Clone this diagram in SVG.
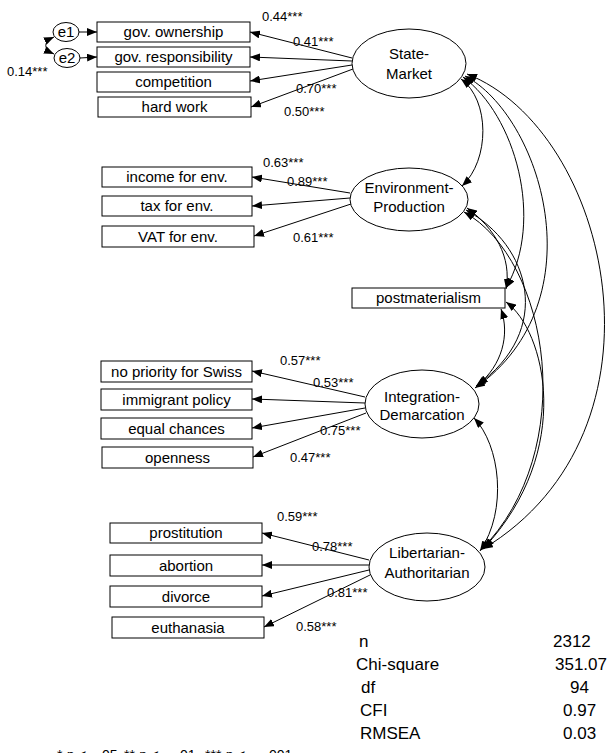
<svg xmlns="http://www.w3.org/2000/svg" width="616" height="753" viewBox="0 0 616 753">
<defs>
<marker id="ah" viewBox="0 0 10 8" refX="10" refY="4" markerWidth="10" markerHeight="8" markerUnits="userSpaceOnUse" orient="auto-start-reverse">
<path d="M0,0 L10,4 L0,8 Z" fill="#000"/>
</marker>
<style>
.box{fill:#fff;stroke:#000;stroke-width:1}
.ell{fill:#fff;stroke:#000;stroke-width:1}
.t{font-family:"Liberation Sans",Arial,sans-serif;font-size:15px;fill:#000;text-anchor:middle}
.lab{font-family:"Liberation Sans",Arial,sans-serif;font-size:13px;fill:#000}
.st{font-family:"Liberation Sans",Arial,sans-serif;font-size:17px;fill:#000}
.ld{fill:none;stroke:#000;stroke-width:1;marker-end:url(#ah)}
.cv{fill:none;stroke:#000;stroke-width:1;marker-start:url(#ah);marker-end:url(#ah)}
</style>
</defs>
<rect width="616" height="753" fill="#fff"/>

<g id="connectors">
<!-- e arrows -->
<line class="ld" x1="79" y1="32" x2="97" y2="32"/>
<line class="ld" x1="80" y1="58" x2="97" y2="57"/>
<path class="cv" d="M54,37 C43,42 43,49 54,54"/>
<!-- State-Market loadings -->
<line class="ld" x1="352" y1="58" x2="250" y2="32"/>
<line class="ld" x1="352" y1="61" x2="250" y2="57"/>
<line class="ld" x1="352" y1="65" x2="250" y2="81"/>
<line class="ld" x1="353" y1="69" x2="251" y2="107"/>
<!-- Environment loadings -->
<line class="ld" x1="350" y1="193" x2="252" y2="177"/>
<line class="ld" x1="350" y1="198" x2="252" y2="206"/>
<line class="ld" x1="351" y1="204" x2="254" y2="236"/>
<!-- Integration loadings -->
<line class="ld" x1="365" y1="397" x2="252" y2="371"/>
<line class="ld" x1="365" y1="403" x2="252" y2="399"/>
<line class="ld" x1="365" y1="408" x2="252" y2="428"/>
<line class="ld" x1="366" y1="413" x2="253" y2="457"/>
<!-- Libertarian loadings -->
<line class="ld" x1="369" y1="560" x2="262" y2="533"/>
<line class="ld" x1="369" y1="565" x2="262" y2="565"/>
<line class="ld" x1="369" y1="570" x2="262" y2="596"/>
<line class="ld" x1="370" y1="575" x2="264" y2="627"/>
<!-- covariances -->
<path class="cv" d="M461,79 C490,100 490,160 462,186"/>
<path class="cv" d="M463,77 C515,115 545,220 506,288"/>
<path class="cv" d="M465,76 C540,115 600,300 475,388"/>
<path class="cv" d="M467,74 C610,130 680,430 483,549"/>
<path class="cv" d="M467,208 C495,228 512,258 506,289"/>
<path class="cv" d="M466,210 C530,245 555,330 476,386"/>
<path class="cv" d="M464,212 C550,260 580,450 481,550"/>
<path class="cv" d="M501,309 C510,335 502,365 478,385"/>
<path class="cv" d="M506,302 C545,330 575,450 484,548"/>
<path class="cv" d="M474,418 C500,445 508,510 480,551"/>
</g>

<g id="e1"><ellipse class="ell" cx="66" cy="32" rx="13" ry="9.5"/><text class="t" x="66" y="37">e1</text></g>
<g id="e2"><ellipse class="ell" cx="67" cy="58" rx="13" ry="9.5"/><text class="t" x="67" y="63">e2</text></g>
<text class="lab" x="7" y="76">0.14***</text>

<g id="gov-ownership"><rect class="box" x="97" y="22" width="153" height="20"/><text class="t" x="173.5" y="37">gov. ownership</text></g>
<g id="gov-responsibility"><rect class="box" x="97" y="47" width="153" height="20"/><text class="t" x="173.5" y="62">gov. responsibility</text></g>
<g id="competition"><rect class="box" x="97" y="72" width="153" height="20"/><text class="t" x="173.5" y="87">competition</text></g>
<g id="hard-work"><rect class="box" x="98" y="97" width="153" height="20"/><text class="t" x="174.5" y="112">hard work</text></g>

<g id="state-market"><ellipse class="ell" cx="409" cy="63.5" rx="57" ry="34.5"/><text class="t" x="409" y="58.5">State-</text><text class="t" x="409" y="78.5">Market</text></g>
<text class="lab" x="262" y="21">0.44***</text>
<text class="lab" x="293" y="46">0.41***</text>
<text class="lab" x="296" y="93">0.70***</text>
<text class="lab" x="284" y="116">0.50***</text>

<g id="income-env"><rect class="box" x="102" y="167" width="150" height="20"/><text class="t" x="177" y="182">income for env.</text></g>
<g id="tax-env"><rect class="box" x="102" y="196" width="150" height="20"/><text class="t" x="177" y="211">tax for env.</text></g>
<g id="vat-env"><rect class="box" x="102" y="226" width="152" height="21"/><text class="t" x="178" y="241.5">VAT for env.</text></g>

<g id="environment-production"><ellipse class="ell" cx="409" cy="199.5" rx="59" ry="31.5"/><text class="t" x="409" y="192.5">Environment-</text><text class="t" x="409" y="211.5">Production</text></g>
<text class="lab" x="263" y="167">0.63***</text>
<text class="lab" x="287" y="186">0.89***</text>
<text class="lab" x="293" y="242">0.61***</text>

<g id="postmaterialism"><rect class="box" x="352" y="288" width="153" height="20"/><text class="t" x="428.5" y="303">postmaterialism</text></g>

<g id="no-priority"><rect class="box" x="101" y="361" width="151" height="21"/><text class="t" x="176.5" y="376.5">no priority for Swiss</text></g>
<g id="immigrant-policy"><rect class="box" x="101" y="389" width="151" height="21"/><text class="t" x="176.5" y="404.5">immigrant policy</text></g>
<g id="equal-chances"><rect class="box" x="101" y="418" width="151" height="21"/><text class="t" x="176.5" y="433.5">equal chances</text></g>
<g id="openness"><rect class="box" x="102" y="447" width="151" height="21"/><text class="t" x="177.5" y="462.5">openness</text></g>

<g id="integration-demarcation"><ellipse class="ell" cx="422" cy="404" rx="57" ry="34"/><text class="t" x="422" y="401.5">Integration-</text><text class="t" x="422" y="420">Demarcation</text></g>
<text class="lab" x="280" y="365">0.57***</text>
<text class="lab" x="313" y="387">0.53***</text>
<text class="lab" x="320" y="435">0.75***</text>
<text class="lab" x="290" y="462">0.47***</text>

<g id="prostitution"><rect class="box" x="110" y="523" width="152" height="20"/><text class="t" x="186" y="538">prostitution</text></g>
<g id="abortion"><rect class="box" x="110" y="555" width="152" height="21"/><text class="t" x="186" y="570.5">abortion</text></g>
<g id="divorce"><rect class="box" x="110" y="586" width="152" height="21"/><text class="t" x="186" y="601.5">divorce</text></g>
<g id="euthanasia"><rect class="box" x="112" y="617" width="152" height="21"/><text class="t" x="188" y="632.5">euthanasia</text></g>

<g id="libertarian-authoritarian"><ellipse class="ell" cx="427" cy="567" rx="58" ry="34"/><text class="t" x="427" y="557.5">Libertarian-</text><text class="t" x="427" y="578">Authoritarian</text></g>
<text class="lab" x="277" y="521">0.59***</text>
<text class="lab" x="312" y="551">0.78***</text>
<text class="lab" x="327" y="597">0.81***</text>
<text class="lab" x="296" y="631">0.58***</text>

<g id="fit-stats">
<text class="st" x="359" y="647">n</text><text class="st" x="553" y="647">2312</text>
<text class="st" x="356" y="670">Chi-square</text><text class="st" x="555" y="670">351.07</text>
<text class="st" x="361" y="693">df</text><text class="st" x="570" y="693">94</text>
<text class="st" x="360" y="716">CFI</text><text class="st" x="563" y="716">0.97</text>
<text class="st" x="360" y="739">RMSEA</text><text class="st" x="563" y="739">0.03</text>
</g>

<text class="lab" style="font-size:14px" x="57" y="760">* <tspan font-style="italic">p</tspan> &lt; <tspan x="98">.05</tspan> <tspan x="124">**</tspan> <tspan font-style="italic">p</tspan> &lt; <tspan x="176">.01</tspan> <tspan x="205">***</tspan> <tspan font-style="italic">p</tspan> &lt; <tspan x="265">.001</tspan></text>
</svg>
